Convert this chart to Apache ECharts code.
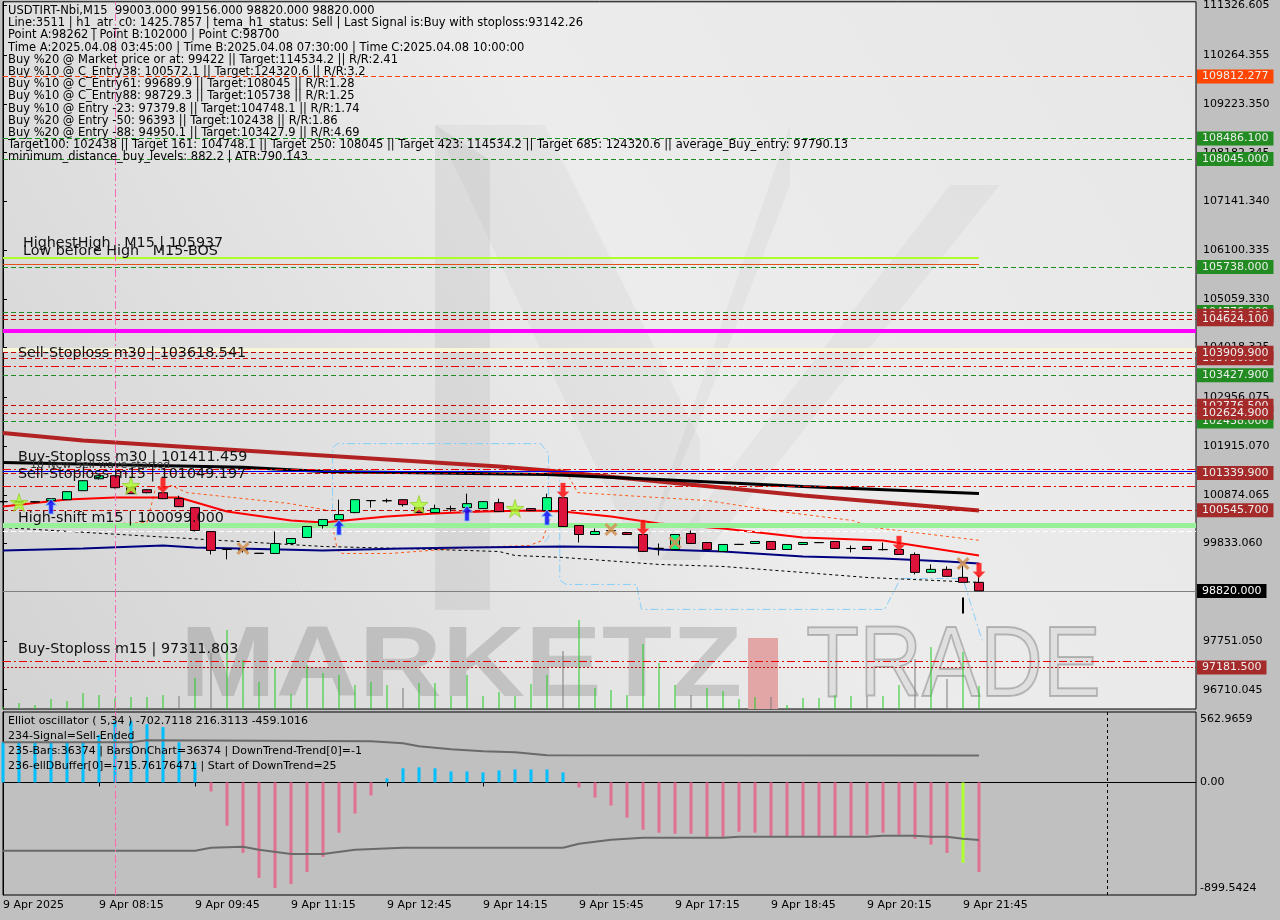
<!DOCTYPE html>
<html><head><meta charset="utf-8">
<script src="https://cdn.jsdelivr.net/npm/echarts@6/dist/echarts.min.js"></script>
<style>html,body{margin:0;padding:0;background:#c0c0c0}#c{width:1280px;height:920px}</style>
</head><body><div id="c"></div>
<script>
// ---------- DATA ----------
const timeLabels = ['9 Apr 2025','9 Apr 08:15','9 Apr 09:45','9 Apr 11:15','9 Apr 12:45','9 Apr 14:15','9 Apr 15:45','9 Apr 17:15','9 Apr 18:45','9 Apr 20:15','9 Apr 21:45'];
const priceTicks = [96710.045, 97751.050, 99833.060, 100874.065, 101915.070, 102956.075, 104018.325, 105059.330, 106100.335, 107141.340, 108182.345, 109223.350, 110264.355, 111326.605];
const oscTickLabels = ['562.9659', '0.00', '-899.5424'];
// candles: [open, close, low, high], one per 15-minute bar
const candles = [
[100727,100727,100705,100750],[100727,100720,100705,100748],[100720,100725,100705,100740],[100748,100791,100740,100800],
[100769,100940,100760,100950],[100961,101174,100955,101185],[101216,101280,101200,101300],[101280,101025,101010,101290],
[101025,100897,100890,101035],[100982,100918,100905,100995],[100918,100791,100780,100930],[100791,100620,100610,100854],
[100599,100110,100090,100610],[100088,99684,99599,100100],[99705,99710,99493,99727],[99700,99690,99640,99720],
[99620,99625,99610,99630],[99620,99833,99610,100088],[99833,99939,99825,99950],[99961,100195,99950,100205],
[100216,100344,100152,100355],[100344,100450,100335,100769],[100493,100769,100480,100780],[100748,100750,100599,100755],
[100748,100745,100705,100791],[100769,100663,100620,100775],[100599,100493,100480,100610],[100493,100578,100485,100663],
[100578,100575,100514,100642],[100599,100684,100590,100897],[100578,100727,100570,100735],[100705,100514,100505,100791],
[100560,100555,100540,100580],[100578,100535,100525,100585],[100535,100812,100525,100897],[100812,100195,100185,100820],
[100216,100025,99854,100225],[100025,100088,100015,100152],[100110,100105,100090,100125],[100067,100025,100015,100075],
[100025,99663,99650,100035],[99727,99730,99578,99833],[99705,100025,99695,100035],[100046,99833,99825,100110],
[99854,99705,99695,99865],[99663,99812,99655,99820],[99812,99815,99800,99825],[99833,99876,99825,99885],
[99876,99705,99695,99885],[99705,99812,99695,99820],[99812,99854,99805,99860],[99854,99850,99845,99860],
[99876,99727,99715,99885],[99727,99725,99642,99790],[99769,99705,99695,99775],[99705,99700,99684,99854],
[99705,99599,99590,99715],[99599,99216,99173,99642],[99216,99280,99205,99386],[99280,99131,99120,99344],
[99109,99003,98995,99365],[99003,98820,98820,99156]
];
const volumes = [20,60,40,100,80,160,140,110,120,120,140,130,310,560,790,490,270,410,150,440,360,340,240,270,240,210,260,260,130,340,130,170,130,250,340,580,890,210,190,140,650,460,240,140,210,180,100,120,120,40,110,110,140,130,130,130,240,500,620,300,570,230];
const volumeGrayBars = [11,13,25,35,43,48,54,57,59];
// indicator lines: [bar index, price]
const slowMA = [[0,102195],[5,102031],[20,101711],[31,101477],[34,101391],[41,101156],[50,100857],[61,100537]];
const trendLine = [[0,101561],[15,101460],[20,101369],[34,101305],[41,101198],[50,101049],[61,100900]];
const fastMA = [[0,100623],[4,100772],[7,100815],[11,100815],[14,100516],[18,100324],[20,100281],[24,100409],[27,100473],[30,100516],[33,100537],[35,100516],[38,100409],[41,100260],[45,100153],[50,99961],[55,99897],[61,99577]];
const baseLine = [[0,99684],[5,99726],[10,99790],[12,99748],[20,99684],[25,99726],[29,99748],[35,99769],[40,99748],[41,99705],[45,99662],[50,99556],[55,99513],[59,99449],[61,99406]];
const lowerDashed = [[0,100174],[20,99769],[25,99726],[31,99662],[32,99577],[35,99534],[41,99385],[45,99342],[50,99214],[54,99107],[61,99001]];
const channelA = [[20.6,100174],[20.6,101882],[20.9,101967],[33.6,101967],[34.1,101754],[34.1,99961],[33.8,99854]];
const channelB = [[34.8,101434],[34.8,99050],[35.2,98958],[39.6,98958],[39.9,98425],[55.1,98425],[56.1,99086],[60,99086],[60.8,98190],[61.2,97763]];
const orangeA = [[0,100174],[9,100281],[9.5,100964],[10.5,101071],[11.5,100921],[14.4,100815],[17.9,100687],[20.4,100537]];
const orangeB = [[20.6,100217],[20.9,99684],[21.2,99620],[24.2,99620],[29.2,99748],[32.9,99790],[33.7,99897],[34.2,100367]];
const orangeC = [[34.8,101434],[35.4,101241],[35.9,100921],[40.9,100815],[44,100751],[48.1,100537],[53.1,100324],[54.4,100174],[61.1,99897]];
const signalTick = [[60,98681],[60,98339]];
// markers [bar index, price]
const starMarks = [[1,100708],[8,101071],[26,100665],[32,100580]];
const buyArrows = [[3,100623],[21,100174],[29,100473],[34,100388]];
const sellArrows = [[10,101071],[35,100964],[40,100174],[56,99833],[61,99257]];
const crossMarks = [[15,99726],[38,100132],[42,99854],[60,99406]];
// horizontal levels
const orangeLevels = [109812.277];
const greenLevels = [108486.1, 108045, 105738, 104776, 103427.9, 102438];
const redLevels = [104700, 104624.1, 103790, 103909.9, 102776.5, 102624.9, 101339.9, 100545.7, 97181.5];
const stoplossLevels = [103618.541, 101411.459, 101049.197, 97311.803];
const highestHigh = 105937, lowBeforeHigh = 105808, magentaLevel = 104378, paleBandLevel = 103973;
const blueLevel = 101369, highShiftBand = 100217, highShiftLevel = 100099, lastPrice = 98820;
const markerBar = 7, rightShiftBar = 69, levelEndBar = 61;
// Elliot oscillator histogram (one value per bar) and its lines
const osc = [321,321,321,321,321,321,378,490,490,466,442,321,161,-72,-346,-563,-763,-844,-812,-715,-595,-402,-249,-104,32,113,121,113,88,88,80,96,104,104,104,80,-40,-121,-185,-281,-378,-402,-410,-410,-434,-434,-394,-402,-434,-434,-434,-434,-434,-434,-418,-402,-418,-450,-498,-563,-643,-715.76];
const signalBar = 60;
const oscUpper = [[0,321],[8,321],[9,338],[23,329],[25,313],[26,289],[28,265],[30,249],[32,241],[34,217],[61,216.31]];
const oscLower = [[0,-546],[12,-546],[13,-522],[15,-514],[16,-538],[18,-571],[20,-571],[22,-538],[25,-522],[35,-522],[36,-490],[37,-474],[38,-458],[39,-450],[40,-442],[45,-442],[46,-434],[54,-434],[55,-426],[57,-426],[58,-434],[59,-434],[60,-450],[61,-459.1]];
const infoLines = [
'USDTIRT-Nbi,M15  99003.000 99156.000 98820.000 98820.000',
'Line:3511 | h1_atr_c0: 1425.7857 | tema_h1_status: Sell | Last Signal is:Buy with stoploss:93142.26',
'Point A:98262 | Point B:102000 | Point C:98700',
'Time A:2025.04.08 03:45:00 | Time B:2025.04.08 07:30:00 | Time C:2025.04.08 10:00:00',
'Buy %20 @ Market price or at: 99422 || Target:114534.2 || R/R:2.41',
'Buy %10 @ C_Entry38: 100572.1 || Target:124320.6 || R/R:3.2',
'Buy %10 @ C_Entry61: 99689.9 || Target:108045 || R/R:1.28',
'Buy %10 @ C_Entry88: 98729.3 || Target:105738 || R/R:1.25',
'Buy %10 @ Entry -23: 97379.8 || Target:104748.1 || R/R:1.74',
'Buy %20 @ Entry -50: 96393 || Target:102438 || R/R:1.86',
'Buy %20 @ Entry -88: 94950.1 || Target:103427.9 || R/R:4.69',
'Target100: 102438 || Target 161: 104748.1 || Target 250: 108045 || Target 423: 114534.2 || Target 685: 124320.6 || average_Buy_entry: 97790.13',
'minimum_distance_buy_levels: 882.2 | ATR:790.143'
];
const oscLines = [
'Elliot oscillator ( 5,34 ) -702.7118 216.3113 -459.1016',
'234-Signal=Sell-Ended',
'235-Bars:36374 | BarsOnChart=36374 | DownTrend-Trend[0]=-1',
'236-ellDBuffer[0]=-715.76176471 | Start of DownTrend=25'
];
const chartNotes = [
 ['HighestHigh   M15 | 105937', 23, 243],
 ['Low before High   M15-BOS', 23, 251],
 ['Sell-Stoploss m30 | 103618.541', 18, 353],
 ['Buy-Stoploss m30 | 101411.459', 18, 457],
 ['Sell-Stoploss m15 | 101049.197', 18, 474],
 ['High-shift m15 | 100099.000', 18, 518],
 ['Buy-Stoploss m15 | 97311.803', 18, 649]
];

// ---------- CHART ----------
const FONT = 'DejaVu Sans';
const XMAX = 1193 / 16;
const DASH = [5, 3], DASHDOT = [8, 3, 2, 3], DOT = [2, 2];
const chart = echarts.init(document.getElementById('c'), null, {renderer: 'canvas', width: 1280, height: 920});

function lvl(v, color, type, width, bg, txt) {
  const it = {yAxis: v, lineStyle: {color: color, type: type, width: width}};
  it.label = bg ? {show: true, position: 'end', distance: 1, formatter: v.toFixed(3), backgroundColor: bg,
    color: txt || '#eeeeee', padding: [2, 5, 1, 5], fontFamily: FONT, fontSize: 11} : {show: false};
  return it;
}
function seg(v, color, type, width) {
  return [{coord: [0, v], lineStyle: {color: color, type: type, width: width}, label: {show: false}}, {coord: [levelEndBar, v]}];
}
const levelData = [];
levelData.push(lvl(paleBandLevel, '#f7f5d8', 'solid', 4));
levelData.push(lvl(highShiftBand, '#98f098', 'solid', 5));
levelData.push(lvl(highShiftLevel, '#ffffff', DASH, 1));
levelData.push(lvl(magentaLevel, '#ff00ff', 'solid', 4));
levelData.push(lvl(blueLevel, '#0000ff', 'solid', 1));
stoplossLevels.forEach(v => levelData.push(lvl(v, '#ee0000', DASHDOT, 1)));
levelData.push(lvl(lastPrice, '#808080', 'solid', 1, '#000000', '#ffffff'));
orangeLevels.forEach(v => levelData.push(lvl(v, '#ff4500', DASH, 1, '#ff4500')));
greenLevels.forEach(v => levelData.push(lvl(v, '#1e8c1e', DASH, 1, '#228b22')));
redLevels.forEach(v => levelData.push(lvl(v, v === 97181.5 ? '#b00000' : '#c00000', v === 97181.5 ? DOT : DASH, 1, '#a52a2a')));
levelData.push(seg(highestHigh, '#adff2f', 'solid', 2));
levelData.push(seg(lowBeforeHigh, '#e8501a', 'solid', 1));

const pathStar = 'path://M50,0 L61,35 L98,35 L68,57 L79,91 L50,70 L21,91 L32,57 L2,35 L39,35 Z';
const pathUp = 'path://M5,0 L10,5 L7,5 L7,12 L3,12 L3,5 L0,5 Z';
const pathDown = 'path://M3,0 L7,0 L7,7 L10,7 L5,12 L0,7 L3,7 Z';
const pathX = 'path://M0,2 L2,0 L6,4 L10,0 L12,2 L8,6 L12,10 L10,12 L6,8 L2,12 L0,10 L4,6 Z';

function lineSeries(data, color, width, type, z) {
  return {type: 'line', xAxisIndex: 0, yAxisIndex: 0, data: data, showSymbol: false, symbol: 'none', silent: true,
    lineStyle: {color: color, width: width, type: type || 'solid'}, z: z || 3, animation: false};
}

const graphics = [];
// watermark logo
const wm = 'rgba(0,0,0,0.03)';
graphics.push({type: 'polygon', z: 1, silent: true, shape: {points: [[435,125],[490,160],[490,610],[435,610]]}, style: {fill: 'rgba(0,0,0,0.055)'}});
graphics.push({type: 'polygon', z: 1, silent: true, shape: {points: [[435,125],[545,125],[700,440],[700,560],[640,560]]}, style: {fill: wm}});
graphics.push({type: 'polygon', z: 1, silent: true, shape: {points: [[640,560],[790,125],[790,185],[700,420]]}, style: {fill: wm}});
graphics.push({type: 'polygon', z: 1, silent: true, shape: {points: [[950,185],[1000,185],[700,560],[660,560]]}, style: {fill: 'rgba(0,0,0,0.03)'}});
graphics.push({type: 'text', z: 1, silent: true, x: 180, y: 618, scaleX: 1.15,
  style: {text: 'MARKETZ', fill: 'rgba(0,0,0,0.14)', font: 'bold 100px "Liberation Sans"', textVerticalAlign: 'top'}});
graphics.push({type: 'rect', z: 1, silent: true, shape: {x: 748, y: 638, width: 30, height: 71}, style: {fill: '#e3a6a6'}});
graphics.push({type: 'text', z: 1, silent: true, x: 806, y: 618, scaleX: 0.87,
  style: {text: 'TRADE', fill: 'rgba(0,0,0,0.05)', stroke: 'rgba(0,0,0,0.22)', lineWidth: 2, font: '100px "Liberation Sans"', textVerticalAlign: 'top'}});
// info texts
graphics.push({type: 'text', z: 10, silent: true, style: {text: infoLines.join('\n'), x: 8, y: 5, font: '11.5px "DejaVu Sans"', lineHeight: 12.2, fill: '#000'}});
graphics.push({type: 'text', z: 10, silent: true, style: {text: oscLines.join('\n'), x: 8, y: 714, font: '11px "DejaVu Sans"', lineHeight: 15, fill: '#000'}});
chartNotes.forEach(n => graphics.push({type: 'text', z: 10, silent: true,
  style: {text: n[0], x: n[1], y: n[2], font: '14.3px "DejaVu Sans"', fill: '#111', textVerticalAlign: 'middle'}}));
graphics.push({type: 'text', z: 10, silent: true, style: {text: '10 New Sell wave started', x: 30, y: 465, font: '11px "DejaVu Sans"', fill: '#333', textVerticalAlign: 'middle'}});

const option = {
  animation: false,
  backgroundColor: '#c0c0c0',
  grid: [
    {left: 3, top: 1, width: 1193, height: 708, show: true, z: 0,
     backgroundColor: new echarts.graphic.LinearGradient(0, 1, 1, 0, [{offset: 0, color: '#d3d3d3'}, {offset: 0.55, color: '#ececec'}, {offset: 1, color: '#e7e7e7'}]),
     borderColor: '#000', borderWidth: 1},
    {left: 3, top: 712, width: 1193, height: 183, show: true, z: 0, backgroundColor: '#c0c0c0', borderColor: '#000', borderWidth: 1}
  ],
  xAxis: [
    {gridIndex: 0, type: 'value', min: 0, max: XMAX, show: false},
    {gridIndex: 1, type: 'value', min: 0, max: XMAX,
     axisLine: {show: true, lineStyle: {color: '#000'}},
     axisTick: {show: true, customValues: timeLabels.map((_, k) => k * 6), length: 4, lineStyle: {color: '#000'}},
     axisLabel: {customValues: timeLabels.map((_, k) => k * 6), formatter: v => timeLabels[Math.round(v / 6)], align: 'left',
       margin: 5, color: '#000', fontFamily: FONT, fontSize: 11},
     splitLine: {show: false}}
  ],
  yAxis: [
    {gridIndex: 0, type: 'value', position: 'right', min: 96297, max: 111406, scale: true,
     axisLine: {show: true, lineStyle: {color: '#000'}},
     axisTick: {show: true, customValues: priceTicks, length: 4, lineStyle: {color: '#000'}},
     axisLabel: {customValues: priceTicks, formatter: v => v.toFixed(3), color: '#000', fontFamily: FONT, fontSize: 11, margin: 7},
     splitLine: {show: false}},
    {gridIndex: 0, type: 'value', min: 0, max: 7080, show: false},
    {gridIndex: 1, type: 'value', position: 'right', min: -899.5424, max: 562.9659,
     axisLine: {show: true, lineStyle: {color: '#000'}},
     axisTick: {show: true, customValues: [0], length: 4, lineStyle: {color: '#000'}},
     axisLabel: {customValues: [505, 0, -843], formatter: v => oscTickLabels[[505, 0, -843].indexOf(v)], color: '#000', fontFamily: FONT, fontSize: 11, margin: 4},
     splitLine: {show: false}}
  ],
  graphic: graphics,
  series: [
    {type: 'bar', name: 'volume', xAxisIndex: 0, yAxisIndex: 1, barWidth: 1, silent: true, z: 2,
     data: volumes.map((v, i) => [i, v]),
     itemStyle: {color: p => volumeGrayBars.indexOf(p.dataIndex) >= 0 ? '#7a7a7a' : '#22cc22'}},
    {type: 'line', name: 'levels', xAxisIndex: 0, yAxisIndex: 0, data: [], z: 2, silent: true,
     markLine: {symbol: ['none', 'none'], silent: true, animation: false, data: levelData.concat([
       {xAxis: markerBar, lineStyle: {color: '#ff69b4', type: DASHDOT, width: 1}, label: {show: false}}])}},
    lineSeries(channelA, '#87cefa', 1, DASHDOT, 3),
    lineSeries(channelB, '#87cefa', 1, DASHDOT, 3),
    lineSeries(orangeA, '#ff5a1a', 1, [3, 3], 3),
    lineSeries(orangeB, '#ff5a1a', 1, [3, 3], 3),
    lineSeries(orangeC, '#ff5a1a', 1, [3, 3], 3),
    lineSeries(lowerDashed, '#000000', 1, [3, 3], 3),
    lineSeries(slowMA, '#b22222', 4, 'solid', 3),
    lineSeries(trendLine, '#000000', 3, 'solid', 3),
    lineSeries(baseLine, '#000080', 2, 'solid', 3),
    lineSeries(fastMA, '#ff0000', 2, 'solid', 3),
    lineSeries(signalTick, '#000000', 2, 'solid', 3),
    {type: 'candlestick', name: 'price', xAxisIndex: 0, yAxisIndex: 0, barWidth: 9, z: 5, silent: true,
     dimensions: ['idx', 'open', 'close', 'low', 'high'], encode: {x: 'idx', y: ['open', 'close', 'low', 'high']},
     data: candles.map((c, i) => [i, c[0], c[1], c[2], c[3]]),
     itemStyle: {color: '#00ff7f', color0: '#dc143c', borderColor: '#000', borderColor0: '#000', borderColorDoji: '#000', borderWidth: 1}},
    {type: 'scatter', xAxisIndex: 0, yAxisIndex: 0, data: starMarks, symbol: pathStar, symbolSize: 18, z: 6, silent: true,
     itemStyle: {color: '#adff2f', borderColor: '#9acd32', borderWidth: 1}},
    {type: 'scatter', xAxisIndex: 0, yAxisIndex: 0, data: buyArrows, symbol: pathUp, symbolSize: [11, 15], z: 6, silent: true,
     itemStyle: {color: '#0000ff', borderColor: '#87cefa', borderWidth: 1}},
    {type: 'scatter', xAxisIndex: 0, yAxisIndex: 0, data: sellArrows, symbol: pathDown, symbolSize: [12, 15], z: 6, silent: true,
     itemStyle: {color: '#ff0000', borderColor: '#ff6666', borderWidth: 0.5}},
    {type: 'scatter', xAxisIndex: 0, yAxisIndex: 0, data: crossMarks, symbol: pathX, symbolSize: 13, z: 6, silent: true,
     itemStyle: {color: '#d2955a', opacity: 0.9}},
    // oscillator
    {type: 'bar', name: 'elliot', xAxisIndex: 1, yAxisIndex: 2, barWidth: 3, silent: true, z: 3,
     data: osc.map((v, i) => [i, v]),
     itemStyle: {color: p => p.dataIndex === signalBar ? '#adff2f' : (p.value[1] >= 0 ? '#00bfff' : '#e07090')},
     markLine: {symbol: ['none', 'none'], silent: true, animation: false, label: {show: false}, data: [
       {xAxis: markerBar, lineStyle: {color: '#ff69b4', type: DASHDOT, width: 1}},
       {xAxis: rightShiftBar, lineStyle: {color: '#000', type: [3, 3], width: 1}}]}},
    {type: 'line', xAxisIndex: 1, yAxisIndex: 2, data: oscUpper, showSymbol: false, symbol: 'none', silent: true, z: 4,
     lineStyle: {color: '#6a6a6a', width: 2}},
    {type: 'line', xAxisIndex: 1, yAxisIndex: 2, data: oscLower, showSymbol: false, symbol: 'none', silent: true, z: 4,
     lineStyle: {color: '#6a6a6a', width: 2}}
  ]
};
chart.setOption(option);
</script>
</body></html>
